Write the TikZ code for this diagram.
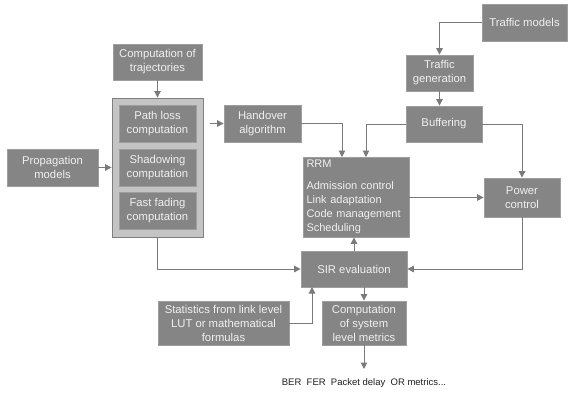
\documentclass[tikz,border=0pt]{standalone}
\usepackage{fontspec}
\setmainfont{Liberation Sans}
\usetikzlibrary{arrows.meta,calc}
\definecolor{boxfill}{HTML}{858585}
\definecolor{boxline}{HTML}{9E9E9E}
\definecolor{bigfill}{HTML}{C4C4C4}
\definecolor{bigline}{HTML}{7F7F7F}
\definecolor{linec}{HTML}{7A7A7A}
\definecolor{txtc}{HTML}{F0F0F0}
\begin{document}
\begin{tikzpicture}[x=1pt,y=-1pt,
  box/.style={draw=boxline, fill=boxfill, text=txtc, line width=0.8pt,
    font=\fontsize{11.3}{14}\selectfont, align=center, inner sep=0pt},
  bigbox/.style={draw=bigline, fill=bigfill, line width=0.9pt, inner sep=0pt},
  conn/.style={draw=linec, line width=1pt, -{Triangle[width=6.5pt,length=6.5pt]}},
  restext/.style={font=\fontsize{9.5}{11}\selectfont, text=black!88, inner sep=0pt}]
\useasboundingbox (0,0) rectangle (571,394);

% left column
\node[box, minimum width=89pt, minimum height=36pt] (traj) at (157.5,62) {Computation of\\trajectories};
\node[bigbox, minimum width=91pt, minimum height=139pt] (big) at (157.5,167.5) {};
\node[box, minimum width=77pt, minimum height=37pt] (pl) at (157.5,123.5) {Path loss\\computation};
\node[box, minimum width=77pt, minimum height=37pt] (sh) at (157.5,167.5) {Shadowing\\computation};
\node[box, minimum width=77pt, minimum height=37pt] (ff) at (157.5,210.5) {Fast fading\\computation};
\node[box, minimum width=91pt, minimum height=37pt] (prop) at (52.5,167.5) {Propagation\\models};

% middle
\node[box, minimum width=106pt, minimum height=80pt, text width=99pt, align=left,
  font=\fontsize{11}{14}\selectfont] (rrm) at (356,197)
  {RRM\\[8pt]Admission control\\Link adaptation\\\mbox{Code management}\\Scheduling};
\node[box, minimum width=77pt, minimum height=37pt] (hand) at (262.5,123.5) {Handover\\algorithm};
\node[box, minimum width=106pt, minimum height=36pt] (sir) at (354,269) {SIR evaluation};
\node[box, minimum width=131pt, minimum height=44pt] (stat) at (223.5,323) {Statistics from link level\\LUT or mathematical\\formulas};
\node[box, minimum width=84pt, minimum height=44pt] (metr) at (364,323) {Computation\\of system\\level metrics};

% right
\node[box, minimum width=85pt, minimum height=37pt] (tmod) at (524.5,22.5) {Traffic models};
\node[box, minimum width=67pt, minimum height=36pt] (tgen) at (439.5,73) {Traffic\\generation};
\node[box, minimum width=76pt, minimum height=36pt] (buf) at (444,124) {Buffering};
\node[box, minimum width=76pt, minimum height=39pt] (power) at (522,197.5) {Power\\control};

\node[restext] (res) at (364,383) {BER\ \ FER\ \ Packet delay\ \ OR metrics...};

% connector end points
\coordinate (rrmin1) at (342,157);
\coordinate (rrmin2) at (366,157);
\coordinate (sirin) at (312,287);
\coordinate (resarr) at (364,369);

% connectors
\draw[conn] (tmod.west) -| (tgen.north);
\draw[conn] (tgen.south) -- (tgen.south |- buf.north);
\draw[conn] (buf.west) -| (rrmin2);
\draw[conn] (hand.east) -| (rrmin1);
\draw[conn] (buf.east) -| (power.north);
\draw[conn] (rrm.east |- power.west) -- (power.west);
\draw[conn] (power.south) |- (sir.east);
\draw[conn] (sir.north) -- (sir.north |- rrm.south);
\draw[conn] (big.south) |- (sir.west);
\draw[conn] (traj.south) -- (big.north);
\draw[conn] (prop.east) -- (big.west);
\draw[conn, shorten <=7pt] (big.east |- hand.west) -- (hand.west);
\draw[conn] (stat.east) -| (sirin);
\draw[conn] (metr.north |- sir.south) -- (metr.north);
\draw[conn] (metr.south) -- (resarr);
\end{tikzpicture}
\end{document}
